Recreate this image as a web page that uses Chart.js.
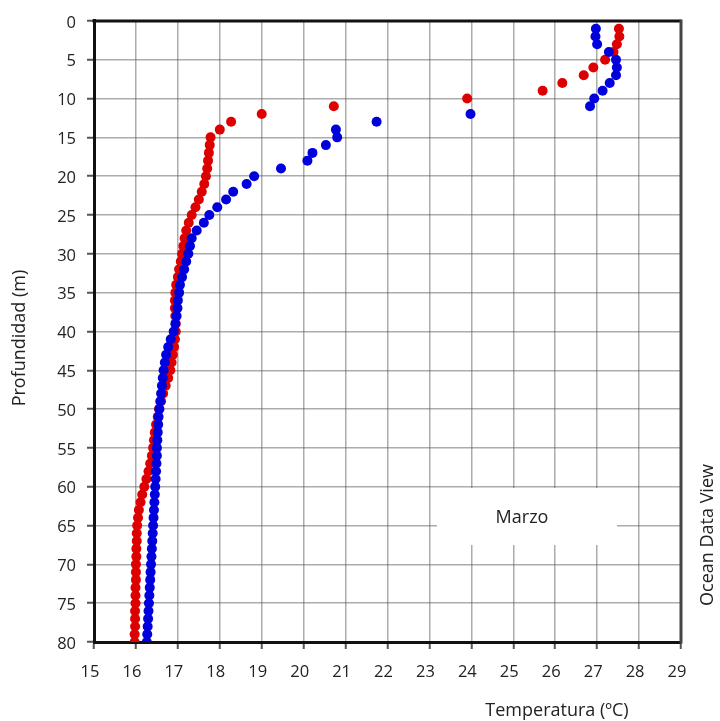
<!DOCTYPE html>
<html><head><meta charset="utf-8">
<script src="https://cdn.jsdelivr.net/npm/chart.js@4.4.1/dist/chart.umd.min.js"></script>
<style>html,body{margin:0;padding:0;background:#fff}#wrap{width:720px;height:721px}</style>
</head><body><div id="wrap"><canvas id="c" width="720" height="721"></canvas></div>
<script>
const depths = [1,2,3,4,5,6,7,8,9,10,11,12,13,14,15,16,17,18,19,20,
  21,22,23,24,25,26,27,28,29,30,31,32,33,34,35,36,37,38,39,40,
  41,42,43,44,45,46,47,48,49,50,51,52,53,54,55,56,57,58,59,60,
  61,62,63,64,65,66,67,68,69,70,71,72,73,74,75,76,77,78,79,80];

const tempRed = [27.52,27.53,27.47,27.39,27.19,26.91,26.68,26.17,25.7,23.9,
  20.72,19.0,18.27,18.0,17.78,17.76,17.74,17.72,17.7,17.67,
  17.63,17.57,17.5,17.42,17.33,17.26,17.2,17.16,17.13,17.1,
  17.07,17.03,17.0,16.96,16.94,16.93,16.93,16.94,16.95,16.95,
  16.93,16.91,16.88,16.85,16.82,16.77,16.71,16.65,16.6,16.55,
  16.52,16.48,16.45,16.43,16.41,16.38,16.34,16.3,16.25,16.2,
  16.15,16.11,16.07,16.05,16.03,16.02,16.02,16.01,16.01,16.0,
  16.0,16.0,15.99,15.99,15.99,15.98,15.98,15.98,15.97,15.97];

const tempBlue = [26.97,26.96,27.0,27.28,27.45,27.47,27.45,27.3,27.13,26.93,
  26.83,23.98,21.74,20.77,20.8,20.53,20.21,20.09,19.46,18.82,
  18.64,18.32,18.15,17.94,17.75,17.62,17.45,17.33,17.29,17.25,
  17.2,17.15,17.1,17.05,17.03,17.0,16.99,16.97,16.94,16.9,
  16.83,16.77,16.72,16.69,16.66,16.64,16.62,16.6,16.58,16.56,
  16.54,16.53,16.52,16.51,16.5,16.5,16.49,16.48,16.47,16.46,
  16.45,16.44,16.43,16.42,16.41,16.4,16.39,16.38,16.37,16.36,
  16.35,16.34,16.33,16.32,16.31,16.3,16.29,16.28,16.27,16.26];

const xTickLabels = [15,16,17,18,19,20,21,22,23,24,25,26,27,28,29];
const yTickLabels = [0,5,10,15,20,25,30,35,40,45,50,55,60,65,70,75,80];

const xTitle = 'Temperatura (ºC)';
const yTitle = 'Profundidad (m)';
const sideNote = 'Ocean Data View';
const boxLabel = 'Marzo';

const FONT = '"Open Sans", sans-serif';
Chart.defaults.font.family = FONT;
Chart.defaults.color = '#222';

const toPts = (temps) => temps.map((t, i) => ({x: t, y: depths[i]}));

const decor = {
  id: 'decor',
  beforeDatasetsDraw(chart) {
    const ctx = chart.ctx;
    ctx.save();
    ctx.fillStyle = '#fff';
    ctx.fillRect(437, 488, 180, 57);
    ctx.fillStyle = '#222';
    ctx.font = '18px ' + FONT;
    ctx.textAlign = 'center';
    ctx.textBaseline = 'middle';
    ctx.fillText(boxLabel, 522, 518);
    ctx.restore();
  },
  afterDraw(chart) {
    const ctx = chart.ctx;
    const {left, right, top, bottom} = chart.chartArea;
    ctx.save();
    ctx.lineWidth = 3;
    ctx.strokeStyle = '#111';
    ctx.beginPath();
    ctx.moveTo(left - 1.5, top);
    ctx.lineTo(right, top);
    ctx.stroke();
    ctx.strokeStyle = '#444';
    ctx.beginPath();
    ctx.moveTo(right, top - 1.5);
    ctx.lineTo(right, bottom + 1.5);
    ctx.stroke();

    ctx.fillStyle = '#222';
    ctx.font = '18px ' + FONT;
    ctx.textAlign = 'center';
    ctx.textBaseline = 'middle';
    ctx.fillText(xTitle, 557, 711);

    ctx.save();
    ctx.translate(20, 338);
    ctx.rotate(-Math.PI / 2);
    ctx.fillText(yTitle, 0, 0);
    ctx.restore();

    ctx.save();
    ctx.translate(708, 535);
    ctx.rotate(-Math.PI / 2);
    ctx.fillText(sideNote, 0, 0);
    ctx.restore();
    ctx.restore();
  }
};

new Chart(document.getElementById('c'), {
  type: 'scatter',
  data: {
    datasets: [
      {label: 'B', data: toPts(tempBlue), backgroundColor: '#0000dd', borderWidth: 0, pointRadius: 5, pointHoverRadius: 5},
      {label: 'R', data: toPts(tempRed), backgroundColor: '#dd0000', borderWidth: 0, pointRadius: 5, pointHoverRadius: 5}
    ]
  },
  options: {
    responsive: false,
    animation: false,
    events: [],
    layout: {padding: {top: 15, right: 39, left: 0, bottom: 0}},
    plugins: {legend: {display: false}, tooltip: {enabled: false}},
    scales: {
      x: {
        type: 'linear', min: xTickLabels[0], max: xTickLabels[xTickLabels.length - 1],
        afterFit: s => { s.height = 79; },
        afterBuildTicks: s => { s.ticks = xTickLabels.map(v => ({value: v})); },
        grid: {color: 'rgba(90,90,90,0.5)', lineWidth: 1.5, tickLength: 7, tickColor: '#555', tickWidth: 2},
        border: {display: true, color: '#111', width: 3},
        ticks: {font: {size: 16.5}, color: '#222', padding: 13, labelOffset: -4, autoSkip: false, maxRotation: 0}
      },
      y: {
        type: 'linear', reverse: true, min: yTickLabels[0], max: yTickLabels[yTickLabels.length - 1],
        afterFit: s => { s.width = 94; },
        afterBuildTicks: s => { s.ticks = yTickLabels.map(v => ({value: v})); },
        grid: {color: 'rgba(90,90,90,0.5)', lineWidth: 1.5, tickLength: 7, tickColor: '#555', tickWidth: 2},
        border: {display: true, color: '#111', width: 3},
        ticks: {font: {size: 16.5}, color: '#222', padding: 11, labelOffset: 2, autoSkip: false}
      }
    }
  },
  plugins: [decor]
});
</script>
</body></html>
